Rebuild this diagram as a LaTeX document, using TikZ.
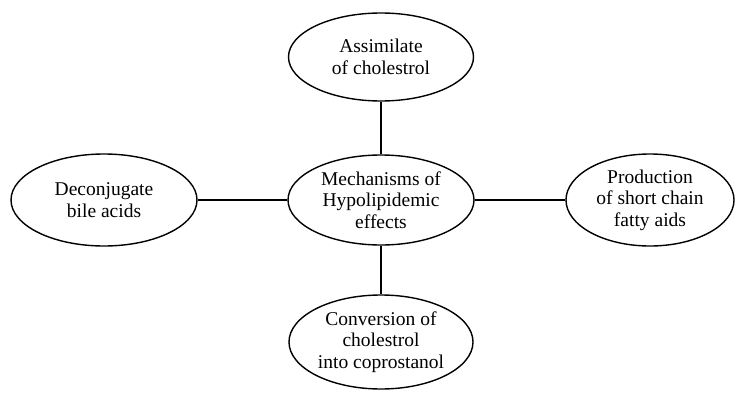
\documentclass[tikz,border=0pt]{standalone}
\usepackage{fontspec}
\setmainfont{Liberation Serif}
\usetikzlibrary{shapes.geometric}
\begin{document}
\begin{tikzpicture}[x=1pt,y=1pt]
    \tikzstyle{M}=[ellipse,draw,line width=1.4pt,inner sep=0pt,align=center,font=\fontsize{19.5}{21.5}\selectfont]
    \tikzstyle{E}=[line width=1.4pt]

    \useasboundingbox (0,0) rectangle (739,392);

    % Central node
    \node [M,minimum width=186pt,minimum height=90pt] (mech) at (381,192) {Mechanisms of\\Hypolipidemic\\effects};

    % Outer nodes
    \node [M,minimum width=185pt,minimum height=88pt] (assim) at (381,335) {Assimilate\\of cholestrol};
    \node [M,minimum width=186pt,minimum height=92pt] (decon) at (104,192) {Deconjugate\\bile acids};
    \node [M,minimum width=168pt,minimum height=92pt] (prod) at (650,192) {Production\\of short chain\\fatty aids};
    \node [M,minimum width=184pt,minimum height=94pt] (conv) at (381,50) {Conversion of\\cholestrol\\into coprostanol};

    % Connectors
    \draw [E] (mech.north) -- (assim.south);
    \draw [E] (mech.west) -- (decon.east);
    \draw [E] (mech.east) -- (prod.west);
    \draw [E] (mech.south) -- (conv.north);
\end{tikzpicture}
\end{document}
